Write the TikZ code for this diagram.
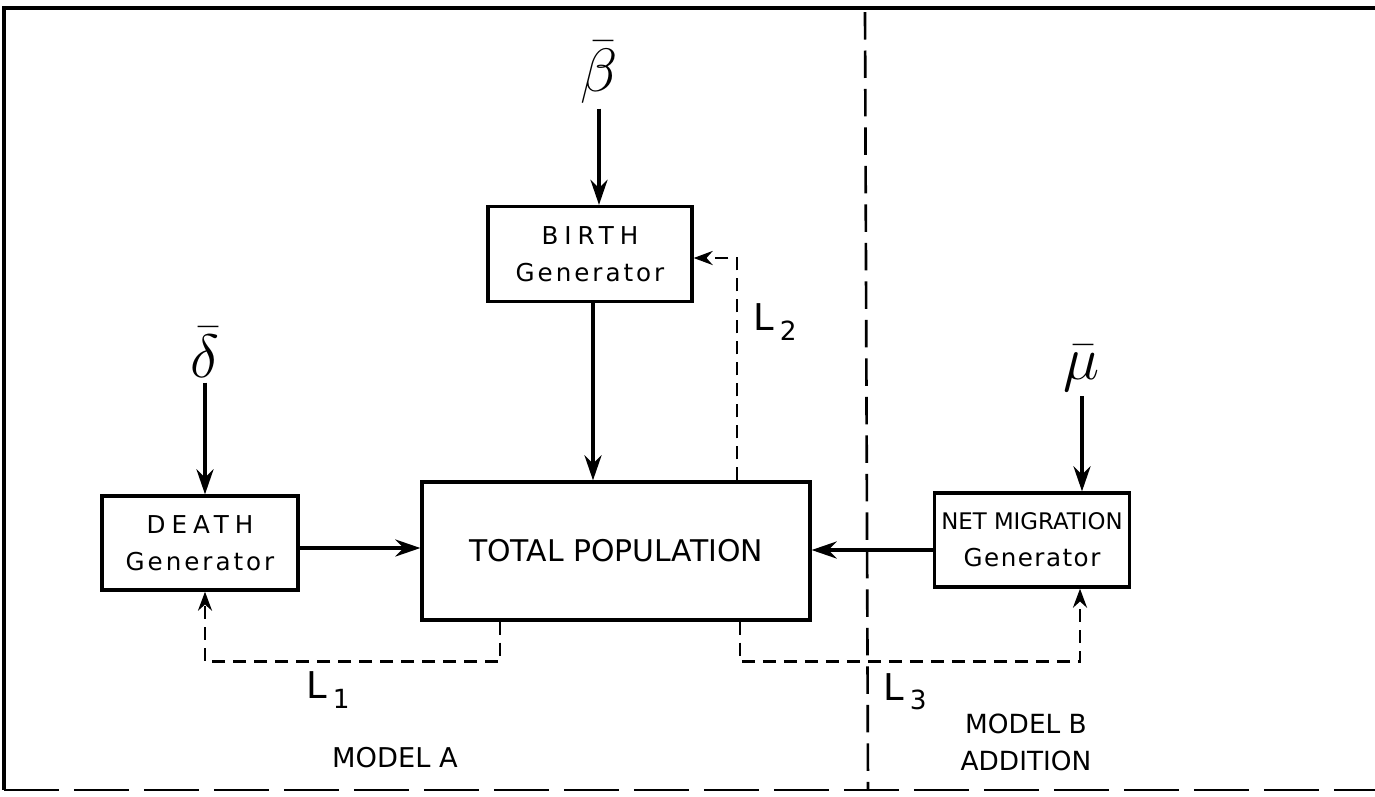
\documentclass[tikz,border=0pt]{standalone}
\usepackage{fontspec}
\setmainfont{DejaVu Sans}
\newfontfamily\capsfont{DejaVu Sans}[LetterSpace=24]
\newfontfamily\genfont{DejaVu Sans}[LetterSpace=12]
\usetikzlibrary{arrows.meta,positioning,calc}
\newcommand{\ratesym}[1]{\scalebox{1.4}{$\bar{#1}$}}

\begin{document}
\begin{tikzpicture}[x=0.02cm,y=-0.02cm]
    \tikzset{
      genbox/.style={draw,line width=1.9pt,align=center,inner sep=0pt,font=\fontsize{14}{21}\selectfont},
      arrow/.style={-{Stealth[length=5mm,width=3.4mm]},line width=2pt},
      loopline/.style={-{Stealth[length=3.8mm,width=2.8mm]},line width=1.6pt,dash pattern=on 0.26cm off 0.16cm},
      divider/.style={line width=1.5pt,dash pattern=on 0.55cm off 0.22cm},
      rate/.style={font=\Huge,inner sep=0pt},
      tag/.style={font=\fontsize{15.5}{21}\selectfont,align=center},
      looptag/.style={font=\fontsize{21}{21}\selectfont}
    }
    \useasboundingbox (0,0) rectangle (1375,796);
    % frame and model boundary
    \draw[line width=1.8pt] (1375,8) -- (4,8) -- (4,790);
    \draw[line width=1.4pt,dash pattern=on 1.1cm off 0.3cm] (4,790) -- (1375,790);
    \draw[divider] (865,12) -- (868,790);
    % generators and population
    \node[genbox,minimum width=4.08cm,minimum height=1.9cm] (birth) at (590,254) {{\capsfont BIRTH}\\{\genfont Generator}};
    \node[genbox,minimum width=7.76cm,minimum height=2.76cm,font=\fontsize{17}{20}\selectfont] (total) at (616,551) {TOTAL POPULATION};
    \node[genbox,minimum width=3.92cm,minimum height=1.88cm] (death) at (200,543) {{\capsfont DEATH}\\{\genfont Generator}};
    \node[genbox,minimum width=3.9cm,minimum height=1.88cm] (netmig) at (1032,540) {{\fontsize{13}{16}\selectfont NET MIGRATION}\\{\addfontfeature{LetterSpace=6}Generator}};
    % rates
    \node[rate] (beta) at (599,72) {\ratesym{\beta}};
    \node[rate] (delta) at (205,352) {\ratesym{\delta}};
    \node[rate] (mu) at (1082,368) {\ratesym{\mu}};
    \draw[arrow] ([yshift=-0.1cm]beta.south) -- (beta.south |- birth.north);
    \draw[arrow] ([yshift=-0.1cm]delta.south) -- (delta.south |- death.north);
    \draw[arrow] ([yshift=-0.1cm]mu.south) -- (mu.south |- netmig.north);
    % flows into the population
    \draw[arrow] ([xshift=0.06cm]birth.south) -- ([xshift=0.06cm]birth.south |- total.north);
    \draw[arrow] ([yshift=-0.1cm]death.east) -- ([yshift=-0.1cm]death.east -| total.west);
    \draw[arrow] ([yshift=-0.2cm]netmig.west) -- ([yshift=-0.2cm]netmig.west -| total.east);
    % feedback loops
    \draw[loopline] ([xshift=2.42cm]total.north) |- ([yshift=-0.08cm]birth.east);
    \draw[loopline] ([xshift=-2.32cm]total.south) -- ++(0,40) -| ([xshift=0.1cm]death.south);
    \draw[loopline] ([xshift=2.48cm]total.south) -- ++(0,40) -| ([xshift=0.96cm]netmig.south);
    \node[looptag] (l1) at (328,690) {L\,\raisebox{-0.45ex}{\fontsize{15}{15}\selectfont 1}};
    \node[looptag] (l2) at (775,322) {L\,\raisebox{-0.45ex}{\fontsize{15}{15}\selectfont 2}};
    \node[looptag] (l3) at (905,692) {L\,\raisebox{-0.45ex}{\fontsize{15}{15}\selectfont 3}};
    % model labels
    \node[tag] (modela) at (395,758) {MODEL A};
    \node[tag,font=\fontsize{15}{21}\selectfont] (modelb) at (1026,742) {MODEL B\\ADDITION};
\end{tikzpicture}
\end{document}
